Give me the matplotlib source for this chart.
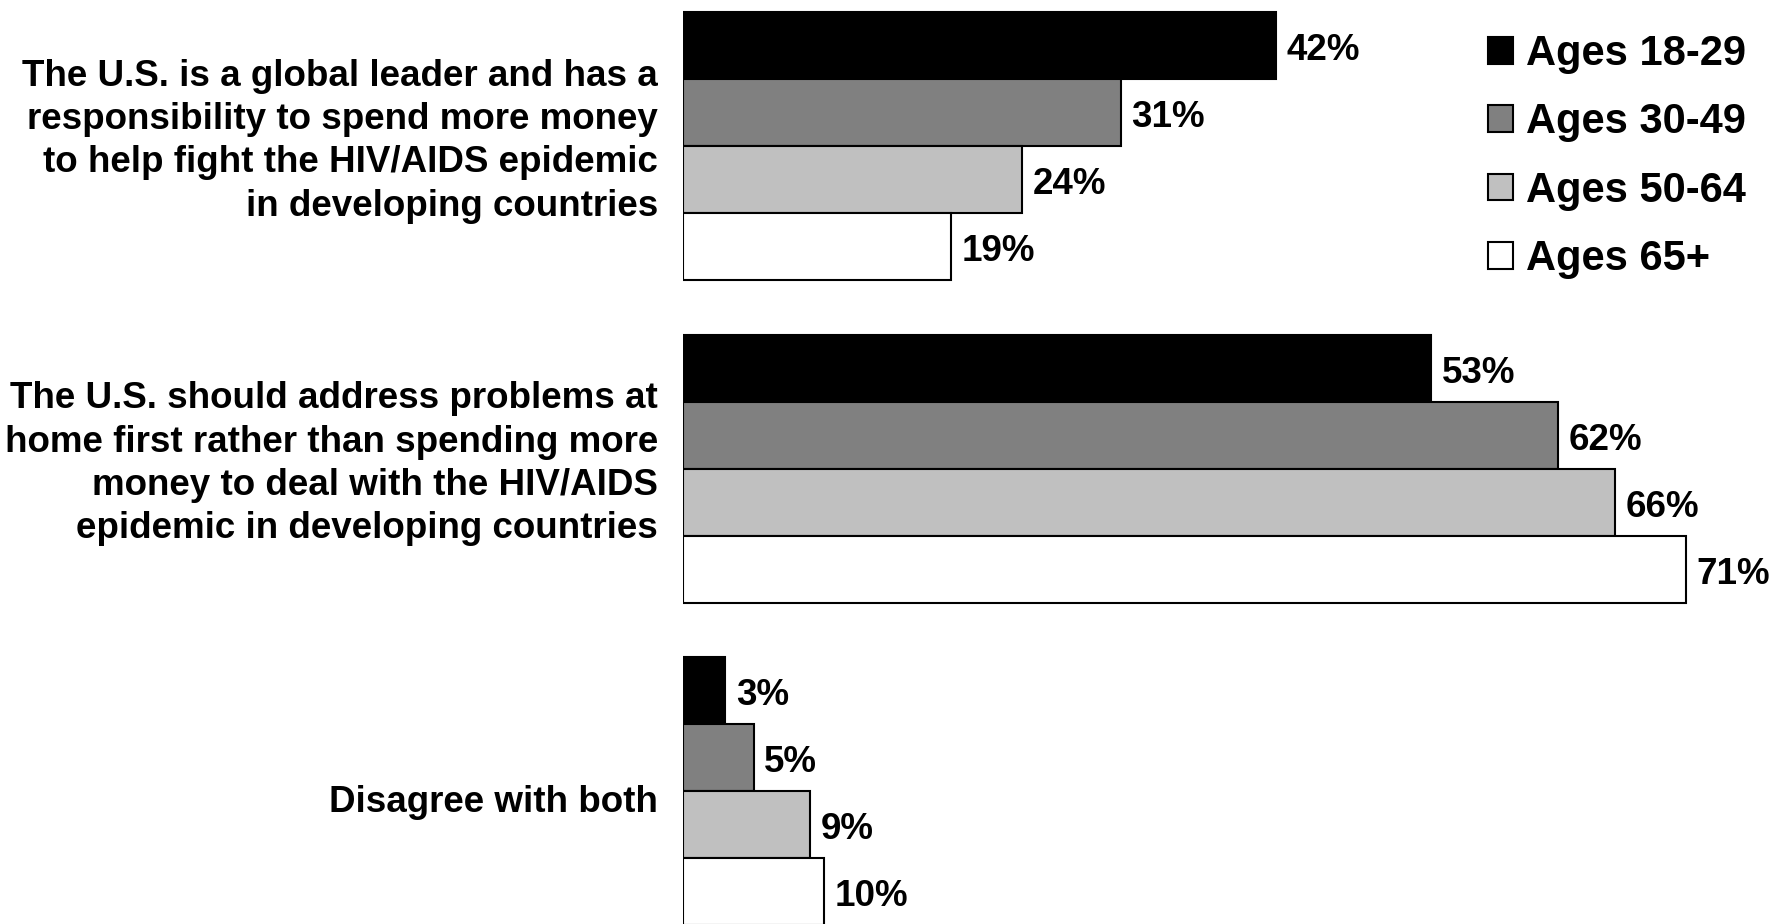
import numpy as np
import matplotlib
matplotlib.use("Agg")
import matplotlib.pyplot as plt
from matplotlib.patches import Patch

categories = [
    "The U.S. is a global leader and has a\nresponsibility to spend more money\nto help fight the HIV/AIDS epidemic\nin developing countries",
    "The U.S. should address problems at\nhome first rather than spending more\nmoney to deal with the HIV/AIDS\nepidemic in developing countries",
    "Disagree with both",
]
series = ["Ages 18-29", "Ages 30-49", "Ages 50-64", "Ages 65+"]
values = [
    [42, 53, 3],   # 18-29
    [31, 62, 5],   # 30-49
    [24, 66, 9],   # 50-64
    [19, 71, 10],  # 65+
]
colors = ["#000000", "#808080", "#C0C0C0", "#FFFFFF"]

W, H = 1788, 924
fig = plt.figure(figsize=(W / 100, H / 100), dpi=100)
left_px = 683
ax = fig.add_axes([left_px / W, 0, 1 - left_px / W, 1])

spacing_px = 322.7
bar_h = 67 / spacing_px
y_top = -146 / spacing_px
y_bot = y_top + H / spacing_px
ax.set_ylim(y_bot, y_top)
ax.set_xlim(0, (W - left_px) / 14.12)

centers = np.arange(len(categories))
for i, (name, vals, col) in enumerate(zip(series, values, colors)):
    y = centers + (i - 1.5) * bar_h
    ax.barh(y, vals, height=bar_h, color=col, edgecolor="black", linewidth=1.5,
            label=name)
    for yy, v in zip(y, vals):
        ax.annotate(f"{v}%", xy=(v, yy), xytext=(7.5, -3.5), textcoords="offset points",
                    ha="left", va="center", fontsize=26.5, fontweight="bold",
                    family=["Liberation Sans", "DejaVu Sans"])

# category labels, right aligned next to the bars
for c, label in zip(centers, categories):
    dy = -0.015 if "\n" in label else 0.035
    ax.annotate(label, xy=(0, c + dy), xycoords=("axes fraction", "data"),
                xytext=(-18, 0), textcoords="offset points", ha="right", va="center",
                multialignment="right", fontsize=26.5, fontweight="bold",
                family=["Liberation Sans", "DejaVu Sans"], linespacing=1.31)

for s in ax.spines.values():
    s.set_visible(False)
ax.set_xticks([])
ax.set_yticks([])

handles = [Patch(facecolor=c, edgecolor="black", linewidth=1.5) for c in colors]
fig.legend(handles, series, loc="upper left", bbox_to_anchor=(1488 / W, 1 - 34 / H),
           frameon=False, borderpad=0, borderaxespad=0, handlelength=0.6,
           handleheight=0.6, handletextpad=0.3, labelspacing=0.68,
           prop={"family": "Liberation Sans", "weight": "bold", "size": 30})

fig.savefig("out.png", dpi=100)
